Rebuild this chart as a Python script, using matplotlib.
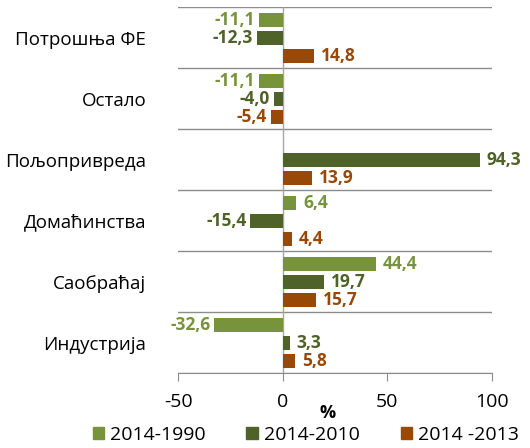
import numpy as np
import matplotlib.pyplot as plt
from matplotlib.patches import Patch

plt.rcParams['font.family'] = ['Open Sans', 'DejaVu Sans']

# sectors, bottom to top
sectors = ["Индустрија", "Саобраћај", "Домаћинства", "Пољопривреда", "Остало", "Потрошња ФЕ"]
series_names = ["2014-1990", "2014-2010", "2014 -2013"]
v_1990 = [-32.6, 44.4, 6.4, None, -11.1, -11.1]
v_2010 = [3.3, 19.7, -15.4, 94.3, -4.0, -12.3]
v_2013 = [5.8, 15.7, 4.4, 13.9, -5.4, 14.8]
colors = ["#77933C", "#4F6228", "#984807"]

fig = plt.figure(figsize=(5.3, 4.48), dpi=100)
ax = fig.add_axes([0.336, 0.167, 0.592, 0.817])

y = np.arange(len(sectors))
offsets = [0.295, 0.0, -0.295]
h = 0.23

for vals, off, col in zip([v_1990, v_2010, v_2013], offsets, colors):
    for yi, v in zip(y, vals):
        if v is None:
            continue
        ax.barh(yi + off, v, height=h, color=col, zorder=3)
        txt = f"{v:.1f}".replace(".", ",")
        if v >= 0:
            ax.annotate(txt, (v, yi + off), xytext=(5, 0), textcoords="offset points",
                        ha="left", va="center", color=col, fontsize=12.5, fontweight="bold",
                        annotation_clip=False, zorder=4)
        else:
            ax.annotate(txt, (v, yi + off), xytext=(-3, 0), textcoords="offset points",
                        ha="right", va="center", color=col, fontsize=12.5, fontweight="bold",
                        annotation_clip=False, zorder=4)

ax.set_xlim(-50, 100)
ax.set_ylim(-0.5, len(sectors) - 0.5)
ax.set_xticks([-50, 0, 50, 100])
ax.set_xticklabels(["-50", "0", "50", "100"])
ax.set_yticks(y)
ax.set_yticklabels(sectors)
ax.set_yticks(np.arange(-0.5, len(sectors), 1.0), minor=True)
ax.grid(True, axis="y", which="minor", color="#8C8C8C", linewidth=1)
ax.tick_params(axis="y", which="both", length=0, pad=23, labelsize=13.5)
ax.tick_params(axis="x", length=6, color="#8C8C8C", labelsize=14, pad=8)
ax.axvline(0, color="#A6A6A6", linewidth=1, zorder=2)

for s in ["top", "right", "left"]:
    ax.spines[s].set_visible(False)
ax.spines["bottom"].set_color("#8C8C8C")

ax.set_xlabel("%", fontsize=13, fontweight="bold")
ax.xaxis.set_label_coords(0.478, -0.085)

handles = [Patch(color=c) for c in colors]
fig.legend(handles, series_names, loc="lower center", ncol=3, frameon=False,
           fontsize=14, handlelength=0.6, handleheight=0.6, handletextpad=0.3,
           columnspacing=2.1, bbox_to_anchor=(0.577, -0.03))

fig.savefig("out.png", dpi=100)
